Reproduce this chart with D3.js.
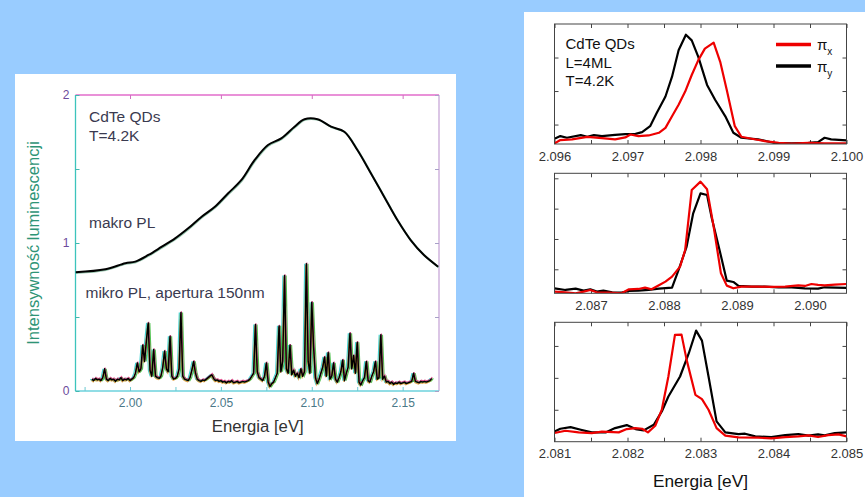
<!DOCTYPE html>
<html>
<head>
<meta charset="utf-8">
<script src="https://cdn.jsdelivr.net/npm/d3@7"></script>
<style>
  html, body { margin: 0; padding: 0; background: #99ccff; }
  svg { display: block; font-family: "Liberation Sans", Arial, sans-serif; }
</style>
</head>
<body>
<script>
// ---- Macro PL spectrum (ensemble), energy [eV] and intensity ----
const makroE = [1.970, 1.9864, 1.9974, 2.0029, 2.0101, 2.0175, 2.0248, 2.0320, 2.0394, 2.0467,
  2.0540, 2.0613, 2.0686, 2.0759, 2.0832, 2.0905, 2.0960, 2.1032, 2.1106, 2.1179,
  2.1251, 2.1325, 2.1398, 2.1471, 2.1544, 2.1617, 2.1695];
const makroI = [0.802, 0.822, 0.863, 0.874, 0.919, 0.975, 1.031, 1.099, 1.178, 1.245,
  1.336, 1.426, 1.561, 1.662, 1.707, 1.786, 1.836, 1.836, 1.786, 1.752,
  1.628, 1.471, 1.313, 1.155, 1.020, 0.919, 0.840];

// ---- Micro PL spectrum (150 nm aperture), sampled every 1 meV from 1.979 eV ----
const microStartE = 1.979;
const microStepE = 0.001;
const microI = [
  0.08, 0.07, 0.085, 0.075, 0.08, 0.07, 0.09, 0.15, 0.08, 0.07,
  0.085, 0.075, 0.08, 0.065, 0.08, 0.075, 0.09, 0.07, 0.08, 0.075,
  0.085, 0.07, 0.08, 0.09, 0.12, 0.19, 0.13, 0.15, 0.31, 0.2,
  0.34, 0.46, 0.14, 0.1, 0.28, 0.1, 0.09, 0.085, 0.1, 0.16,
  0.27, 0.15, 0.13, 0.37, 0.1, 0.08, 0.085, 0.1, 0.15, 0.53,
  0.1, 0.08, 0.075, 0.07, 0.09, 0.14, 0.2, 0.12, 0.08, 0.07,
  0.065, 0.075, 0.07, 0.08, 0.09, 0.1, 0.11, 0.085, 0.07, 0.075,
  0.065, 0.07, 0.06, 0.065, 0.055, 0.065, 0.06, 0.07, 0.055, 0.06,
  0.065, 0.055, 0.06, 0.065, 0.06, 0.065, 0.07, 0.08, 0.1, 0.12,
  0.45, 0.13, 0.09, 0.08, 0.07, 0.1, 0.19, 0.06, 0.03, 0.05,
  0.06, 0.09, 0.12, 0.44, 0.13, 0.2, 0.78, 0.15, 0.12, 0.31,
  0.11, 0.14, 0.1, 0.12, 0.09, 0.15, 0.1, 0.13, 0.86, 0.2,
  0.12, 0.6, 0.3, 0.09, 0.05, 0.08, 0.12, 0.16, 0.23, 0.1,
  0.26, 0.08, 0.1, 0.19, 0.08, 0.06, 0.09, 0.13, 0.21, 0.07,
  0.12, 0.16, 0.39, 0.15, 0.24, 0.12, 0.33, 0.06, 0.04, 0.07,
  0.09, 0.2, 0.07, 0.06, 0.1, 0.13, 0.2, 0.08, 0.09, 0.38,
  0.08, 0.1, 0.06, 0.065, 0.05, 0.06, 0.045, 0.055, 0.05, 0.06,
  0.05, 0.055, 0.06, 0.05, 0.055, 0.06, 0.065, 0.12, 0.065, 0.06,
  0.055, 0.065, 0.06, 0.065, 0.06, 0.065, 0.07, 0.085];

// ---- Single-dot spectra, two linear polarisations ----
// dot A
const dotA_E_y = [2.09600, 2.09608, 2.09617, 2.09636, 2.09645, 2.09654, 2.09665, 2.09683, 2.09697, 2.09711,
  2.09720, 2.09731, 2.09740, 2.09752, 2.09761, 2.09770, 2.09780, 2.09788, 2.09797, 2.09809,
  2.09820, 2.09834, 2.09845, 2.09856, 2.09879, 2.09900, 2.09925, 2.09948, 2.09961, 2.09970,
  2.09979, 2.10000];
const dotA_piY = [0.576, 0.655, 0.606, 0.685, 0.635, 0.685, 0.655, 0.695, 0.714, 0.724,
  0.773, 0.951, 1.345, 1.837, 2.429, 3.217, 3.680, 3.512, 3.020, 2.182,
  1.739, 1.246, 0.754, 0.606, 0.557, 0.458, 0.438, 0.458, 0.478, 0.606,
  0.557, 0.527];
const dotA_E_x = [2.09600, 2.09608, 2.09624, 2.09645, 2.09665, 2.09683, 2.09697, 2.09704, 2.09715, 2.09729,
  2.09743, 2.09752, 2.09761, 2.09770, 2.09779, 2.09788, 2.09797, 2.09806, 2.09818, 2.09827,
  2.09836, 2.09847, 2.09856, 2.09870, 2.09888, 2.09907, 2.09925, 2.09948, 2.09970, 2.10000];
const dotA_piX = [0.438, 0.537, 0.557, 0.635, 0.596, 0.557, 0.616, 0.704, 0.655, 0.675,
  0.754, 0.901, 1.246, 1.591, 1.985, 2.478, 2.921, 3.266, 3.443, 2.872,
  2.034, 0.951, 0.635, 0.576, 0.507, 0.458, 0.429, 0.458, 0.438, 0.438];

// dot B
const dotB_E_y = [2.08650, 2.08665, 2.08679, 2.08690, 2.08699, 2.08708, 2.08717, 2.08729, 2.08742, 2.08752,
  2.08765, 2.08779, 2.08793, 2.08811, 2.08820, 2.08831, 2.08840, 2.08850, 2.08859, 2.08865,
  2.08875, 2.08886, 2.08895, 2.08902, 2.08920, 2.08938, 2.08957, 2.08975, 2.08993, 2.09011,
  2.09020, 2.09050];
const dotB_piY = [0.374, 0.319, 0.363, 0.297, 0.341, 0.264, 0.297, 0.242, 0.231, 0.286,
  0.297, 0.319, 0.363, 0.396, 0.978, 1.747, 2.846, 3.505, 3.451, 2.736,
  1.747, 0.626, 0.582, 0.451, 0.429, 0.429, 0.407, 0.407, 0.374, 0.363,
  0.407, 0.385];
const dotB_E_x = [2.08650, 2.08665, 2.08679, 2.08690, 2.08699, 2.08708, 2.08724, 2.08742, 2.08752, 2.08765,
  2.08774, 2.08783, 2.08793, 2.08802, 2.08811, 2.08822, 2.08829, 2.08838, 2.08850, 2.08859,
  2.08868, 2.08878, 2.08886, 2.08895, 2.08906, 2.08929, 2.08947, 2.08966, 2.08984, 2.08993,
  2.09002, 2.09011, 2.09020, 2.09034, 2.09050];
const dotB_piX = [0.264, 0.242, 0.209, 0.264, 0.319, 0.242, 0.231, 0.209, 0.341, 0.352,
  0.396, 0.341, 0.473, 0.593, 0.758, 1.088, 1.637, 3.615, 3.890, 3.637,
  2.407, 0.868, 0.462, 0.374, 0.429, 0.429, 0.418, 0.429, 0.473, 0.451,
  0.516, 0.484, 0.473, 0.495, 0.516];

// dot C
const dotC_E_y = [2.08100, 2.08108, 2.08122, 2.08136, 2.08151, 2.08170, 2.08183, 2.08199, 2.08211, 2.08222,
  2.08236, 2.08247, 2.08256, 2.08272, 2.08284, 2.08294, 2.08302, 2.08311, 2.08322, 2.08334,
  2.08352, 2.08361, 2.08375, 2.08397, 2.08416, 2.08434, 2.08448, 2.08461, 2.08470, 2.08484,
  2.08500];
const dotC_piY = [0.323, 0.406, 0.458, 0.375, 0.292, 0.292, 0.427, 0.521, 0.396, 0.354,
  0.531, 0.948, 1.417, 2.042, 2.771, 3.479, 3.167, 2.042, 0.635, 0.292,
  0.240, 0.250, 0.167, 0.146, 0.208, 0.240, 0.188, 0.229, 0.198, 0.271,
  0.292];
const dotC_E_x = [2.08100, 2.08115, 2.08133, 2.08151, 2.08165, 2.08188, 2.08199, 2.08211, 2.08220, 2.08228,
  2.08238, 2.08247, 2.08256, 2.08265, 2.08274, 2.08281, 2.08293, 2.08302, 2.08311, 2.08322,
  2.08334, 2.08352, 2.08379, 2.08397, 2.08416, 2.08434, 2.08448, 2.08461, 2.08475, 2.08489,
  2.08500];
const dotC_piX = [0.271, 0.344, 0.292, 0.271, 0.313, 0.292, 0.396, 0.427, 0.406, 0.292,
  0.500, 1.000, 2.042, 3.344, 3.354, 2.563, 1.469, 1.333, 1.000, 0.427,
  0.188, 0.135, 0.125, 0.104, 0.146, 0.167, 0.198, 0.146, 0.208, 0.229,
  0.167];

// ---- Tick values / labels ----
const leftXTicks = [1.975, 2.00, 2.025, 2.05, 2.075, 2.10, 2.125, 2.15];
const leftXLabels = [2.00, 2.05, 2.10, 2.15];
const leftYTicks = [0, 0.5, 1, 1.5, 2];
const leftYLabels = [0, 1, 2];
const dotAxTicks = [2.096, 2.0965, 2.097, 2.0975, 2.098, 2.0985, 2.099, 2.0995, 2.100];
const dotBxTicks = [2.087, 2.0875, 2.088, 2.0885, 2.089, 2.0895, 2.090];
const dotCxTicks = [2.081, 2.0815, 2.082, 2.0825, 2.083, 2.0835, 2.084, 2.0845, 2.085];

const W = 865, H = 497;
const svg = d3.select("body").append("svg").attr("width", W).attr("height", H);
svg.append("rect").attr("width", W).attr("height", H).attr("fill", "#99ccff");

// ================= Left panel: macro vs micro PL =================
svg.append("rect").attr("x", 15).attr("y", 74).attr("width", 441).attr("height", 367).attr("fill", "#ffffff");

const L = { x0: 75.5, x1: 439, y0: 95, y1: 391 };
const lx = d3.scaleLinear().domain([1.97, 2.17]).range([L.x0, L.x1]);
const ly = d3.scaleLinear().domain([0, 2]).range([L.y1, L.y0]);

const leftG = svg.append("g");
leftG.append("defs").append("clipPath").attr("id", "clipL")
  .append("rect").attr("x", L.x0).attr("y", L.y0).attr("width", L.x1 - L.x0).attr("height", L.y1 - L.y0);

// frame, each side in its own tint
const frameSides = [
  { x1: L.x0, y1: L.y0, x2: L.x1, y2: L.y0, c: "#e26ccb" },
  { x1: L.x1, y1: L.y0, x2: L.x1, y2: L.y1, c: "#c8a8d8" },
  { x1: L.x0, y1: L.y1, x2: L.x1, y2: L.y1, c: "#6cd2dc" },
  { x1: L.x0, y1: L.y0, x2: L.x0, y2: L.y1, c: "#3cc4bc" }
];
leftG.selectAll("line.frame").data(frameSides).join("line")
  .attr("x1", d => d.x1).attr("y1", d => d.y1).attr("x2", d => d.x2).attr("y2", d => d.y2)
  .attr("stroke", d => d.c).attr("stroke-width", 1.3);

// ticks (inward)
const tickFmtL = v => leftXLabels.some(t => Math.abs(t - v) < 1e-9) ? d3.format(".2f")(v) : "";
const axB = leftG.append("g").attr("transform", `translate(0,${L.y1})`)
  .call(d3.axisBottom(lx).tickValues(leftXTicks).tickSize(-4).tickPadding(7).tickFormat(tickFmtL));
const axT = leftG.append("g").attr("transform", `translate(0,${L.y0})`)
  .call(d3.axisTop(lx).tickValues(leftXLabels).tickSize(-4).tickFormat(""));
const axL = leftG.append("g").attr("transform", `translate(${L.x0},0)`)
  .call(d3.axisLeft(ly).tickValues(leftYTicks).tickSize(-4).tickPadding(6)
    .tickFormat(v => leftYLabels.includes(v) ? d3.format("d")(v) : ""));
const axR = leftG.append("g").attr("transform", `translate(${L.x1},0)`)
  .call(d3.axisRight(ly).tickValues(leftYTicks).tickSize(-4).tickFormat(""));
[axB, axT, axL, axR].forEach(a => a.select(".domain").remove());
axB.selectAll("line").attr("stroke", "#6cc8d0");
axT.selectAll("line").attr("stroke", "#d070c0");
axL.selectAll("line").attr("stroke", "#40b8b0");
axR.selectAll("line").attr("stroke", "#a8a0c8");
axB.selectAll("text").attr("font-size", 12).attr("fill", "#4a7888").attr("font-family", "Liberation Sans, Arial, sans-serif");
axL.selectAll("text").attr("font-size", 12).attr("fill", "#6c4a9c").attr("font-family", "Liberation Sans, Arial, sans-serif");

const plotL = leftG.append("g").attr("clip-path", "url(#clipL)");

// micro PL trace, with coloured copies giving the spectral fringes
const microPts = microI.map((v, i) => [microStartE + i * microStepE, v]);
const microLine = d3.line().x(d => lx(d[0])).y(d => ly(d[1]));
const fringes = [
  { c: "#18c8c8", dx: -1.6, dy: 0 },
  { c: "#28b428", dx: 1.6, dy: 0 },
  { c: "#e0307c", dx: 0.5, dy: -1.2 },
  { c: "#e09020", dx: -0.5, dy: 1.2 }
];
plotL.selectAll("path.fringe").data(fringes).join("path")
  .attr("d", microLine(microPts))
  .attr("transform", d => `translate(${d.dx},${d.dy})`)
  .attr("fill", "none").attr("stroke", d => d.c).attr("stroke-width", 1.2).attr("opacity", 0.8);
plotL.append("path").attr("d", microLine(microPts))
  .attr("fill", "none").attr("stroke", "#000").attr("stroke-width", 1.5).attr("stroke-linejoin", "round");

// macro PL curve
const makroPts = makroE.map((e, i) => [e, makroI[i]]);
const makroLine = d3.line().x(d => lx(d[0])).y(d => ly(d[1])).curve(d3.curveCatmullRom);
plotL.append("path").attr("d", makroLine(makroPts))
  .attr("fill", "none").attr("stroke", "#2a8a5a").attr("stroke-width", 2).attr("opacity", 0.5)
  .attr("transform", "translate(0.6,0.6)");
plotL.append("path").attr("d", makroLine(makroPts))
  .attr("fill", "none").attr("stroke", "#000").attr("stroke-width", 2);

// annotations
const txtL = leftG.append("g").attr("fill", "#3a3a50").attr("font-size", 15.5);
txtL.append("text").attr("x", 89).attr("y", 121.5).text("CdTe QDs");
txtL.append("text").attr("x", 89).attr("y", 141).text("T=4.2K");
txtL.append("text").attr("x", 89).attr("y", 228).text("makro PL");
txtL.append("text").attr("x", 85.5).attr("y", 297.5).text("mikro PL, apertura 150nm");

leftG.append("text").attr("x", (L.x0 + L.x1) / 2 + 0.5).attr("y", 431.5)
  .attr("text-anchor", "middle").attr("font-size", 16.7).attr("fill", "#333")
  .text("Energia [eV]");
leftG.append("text")
  .attr("transform", `translate(39,${(L.y0 + L.y1) / 2}) rotate(-90)`)
  .attr("text-anchor", "middle").attr("font-size", 16.5).attr("fill", "#2e9476")
  .text("Intensywność luminescencji");

// ================= Right panel: single-dot spectra =================
svg.append("rect").attr("x", 524).attr("y", 12).attr("width", W - 524).attr("height", H - 12).attr("fill", "#ffffff");

const RX0 = 554.5, RX1 = 846.5;
const panels = [
  { top: 24, bottom: 144, xDom: [2.096, 2.100], yDom: [0.42, 4.0], yTicks: [1, 2, 3], xTicks: dotAxTicks,
    series: [ { E: dotA_E_y, I: dotA_piY, c: "#000" }, { E: dotA_E_x, I: dotA_piX, c: "#ee0000" } ] },
  { top: 173.3, bottom: 293.3, xDom: [2.0865, 2.0905], yDom: [0.209, 4.165], yTicks: [1, 2, 3, 4], xTicks: dotBxTicks,
    series: [ { E: dotB_E_y, I: dotB_piY, c: "#000" }, { E: dotB_E_x, I: dotB_piX, c: "#ee0000" } ] },
  { top: 322.3, bottom: 441.7, xDom: [2.081, 2.085], yDom: [0.0, 3.74], yTicks: [1, 2, 3], xTicks: dotCxTicks,
    series: [ { E: dotC_E_y, I: dotC_piY, c: "#000" }, { E: dotC_E_x, I: dotC_piX, c: "#ee0000" } ] }
];

panels.forEach((p, k) => {
  const g = svg.append("g");
  const x = d3.scaleLinear().domain(p.xDom).range([RX0, RX1]);
  const y = d3.scaleLinear().domain(p.yDom).range([p.bottom, p.top]);
  const cid = "clipR" + k;
  g.append("clipPath").attr("id", cid).append("rect")
    .attr("x", RX0).attr("y", p.top).attr("width", RX1 - RX0).attr("height", p.bottom - p.top);

  const major = v => Math.abs(Math.round(v * 1000) - v * 1000) < 1e-6;
  const b = g.append("g").attr("transform", `translate(0,${p.bottom})`)
    .call(d3.axisBottom(x).tickValues(p.xTicks).tickSize(-4).tickPadding(7.5)
      .tickFormat(v => major(v) ? d3.format(".3f")(v) : ""));
  const t = g.append("g").attr("transform", `translate(0,${p.top})`)
    .call(d3.axisTop(x).tickValues(p.xTicks).tickSize(-4).tickFormat(""));
  const l = g.append("g").attr("transform", `translate(${RX0},0)`)
    .call(d3.axisLeft(y).tickValues(p.yTicks).tickSize(-4).tickFormat(""));
  const r = g.append("g").attr("transform", `translate(${RX1},0)`)
    .call(d3.axisRight(y).tickValues(p.yTicks).tickSize(-4).tickFormat(""));
  [b, t, l, r].forEach(a => { a.select(".domain").remove(); a.selectAll("line").attr("stroke", "#444"); });
  b.selectAll("text").attr("font-size", 13).attr("fill", "#333").attr("font-family", "Liberation Sans, Arial, sans-serif");

  const plot = g.append("g").attr("clip-path", `url(#${cid})`);
  const line = d3.line().x(d => x(d[0])).y(d => y(d[1]));
  p.series.forEach(s => {
    plot.append("path").attr("d", line(s.E.map((e, i) => [e, s.I[i]])))
      .attr("fill", "none").attr("stroke", s.c).attr("stroke-width", 2.2).attr("stroke-linejoin", "round");
  });

  g.append("rect").attr("x", RX0).attr("y", p.top).attr("width", RX1 - RX0).attr("height", p.bottom - p.top)
    .attr("fill", "none").attr("stroke", "#444").attr("stroke-width", 1);
});

// annotations of the top dot
const txtR = svg.append("g").attr("fill", "#111").attr("font-size", 15);
txtR.append("text").attr("x", 565.5).attr("y", 48.5).text("CdTe QDs");
txtR.append("text").attr("x", 565.5).attr("y", 68).text("L=4ML");
txtR.append("text").attr("x", 565.5).attr("y", 86).text("T=4.2K");

// legend
const legend = [ { c: "#ee0000", sub: "x", y: 44.5 }, { c: "#000", sub: "y", y: 66 } ];
const lg = svg.append("g");
legend.forEach(d => {
  lg.append("line").attr("x1", 776).attr("x2", 811).attr("y1", d.y).attr("y2", d.y)
    .attr("stroke", d.c).attr("stroke-width", 3.3);
  const tx = lg.append("text").attr("x", 817).attr("y", d.y + 5.5).attr("font-size", 15).attr("fill", "#111");
  tx.append("tspan").text("π");
  tx.append("tspan").attr("dy", 5).attr("font-size", 10).text(d.sub);
});

svg.append("text").attr("x", 700.5).attr("y", 486.5).attr("text-anchor", "middle")
  .attr("font-size", 17.3).attr("fill", "#111").text("Energia [eV]");
</script>
</body>
</html>
